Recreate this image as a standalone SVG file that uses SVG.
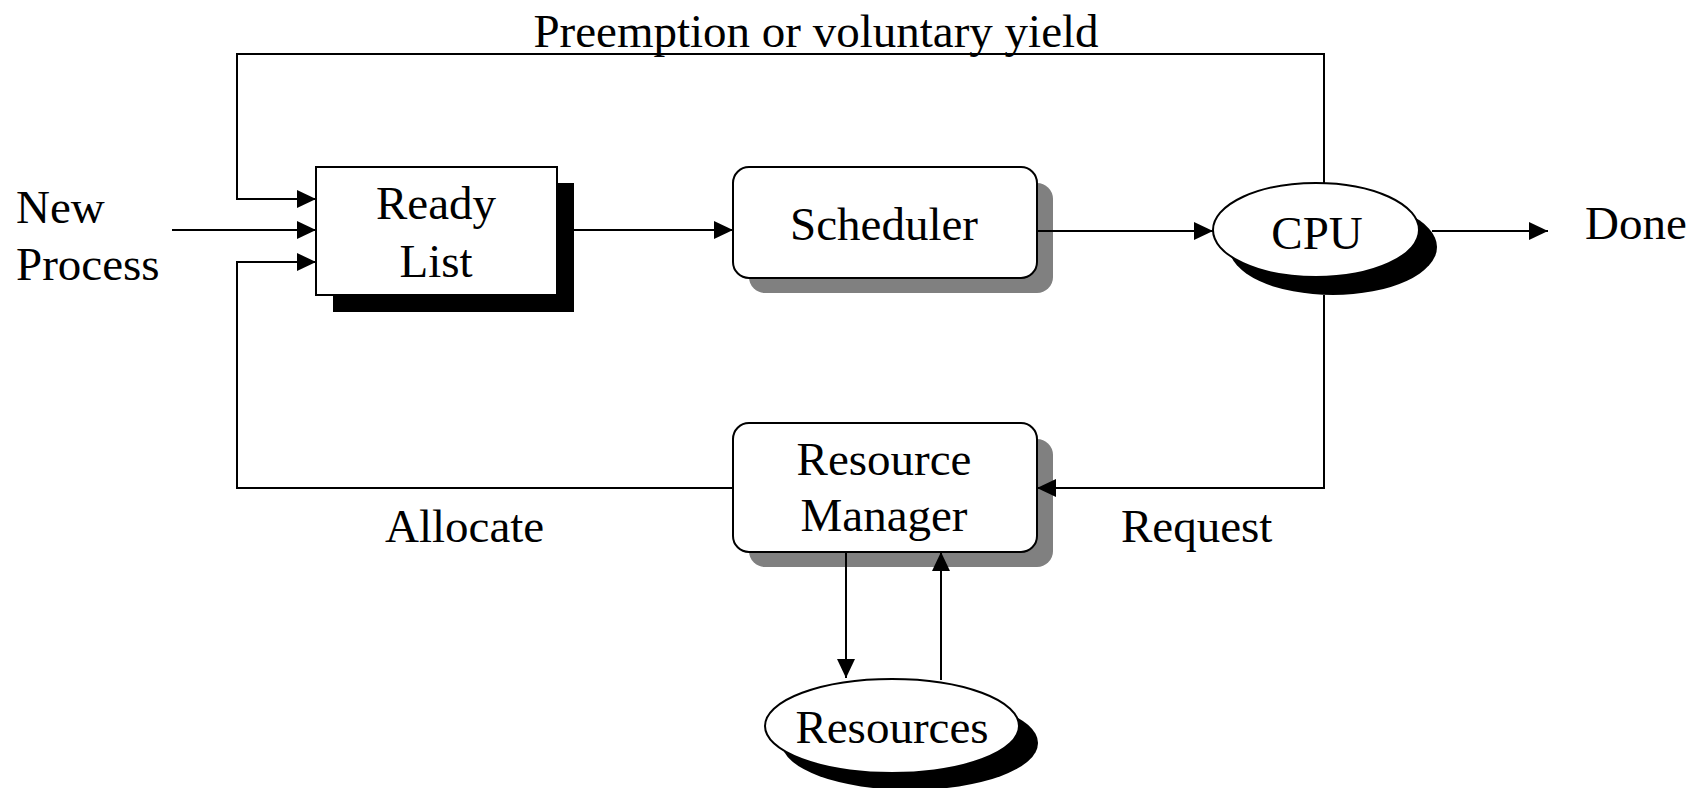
<svg xmlns="http://www.w3.org/2000/svg" width="1701" height="788" viewBox="0 0 1701 788">
<style>
text{font-family:"Liberation Serif","Times New Roman",serif;font-size:47px;fill:#000}
.c{text-anchor:middle}
.ln{fill:none;stroke:#000;stroke-width:2}
.box{fill:#fff;stroke:#000;stroke-width:2}
</style>
<defs>
<marker id="ah" markerUnits="userSpaceOnUse" markerWidth="20" markerHeight="20" refX="19" refY="9" orient="auto">
<path d="M0,0 L19,9 L0,18 Z" fill="#000"/>
</marker>
</defs>
<rect width="1701" height="788" fill="#fff"/>
<g id="new-process">
<text x="16" y="223">New</text>
<text x="16" y="280">Process</text>
</g>
<g id="ready-list">
<rect x="333" y="183" width="241" height="129" fill="#000"/>
<rect class="box" x="316" y="167" width="241" height="128"/>
<text x="436" y="219" class="c">Ready</text>
<text x="436" y="277" class="c">List</text>
</g>
<g id="scheduler">
<rect x="749" y="183" width="304" height="110" rx="16" fill="#808080"/>
<rect class="box" x="733" y="167" width="304" height="111" rx="16"/>
<text x="884" y="240" class="c">Scheduler</text>
</g>
<g id="cpu">
<ellipse cx="1333" cy="247" rx="104" ry="48" fill="#000"/>
<ellipse class="box" cx="1316" cy="230" rx="103" ry="47"/>
<text x="1317" y="249" class="c">CPU</text>
</g>
<g id="done">
<text x="1585" y="239">Done</text>
</g>
<g id="resource-manager">
<rect x="749" y="439" width="304" height="128" rx="16" fill="#808080"/>
<rect class="box" x="733" y="423" width="304" height="129" rx="16"/>
<text x="884" y="475" class="c">Resource</text>
<text x="884" y="531" class="c">Manager</text>
</g>
<g id="resources">
<ellipse cx="910" cy="743" rx="128" ry="47" fill="#000"/>
<ellipse class="box" cx="892" cy="726" rx="127" ry="47"/>
<text x="892" y="743" class="c">Resources</text>
</g>
<g id="connectors">
<polyline class="ln" points="1324,183 1324,54 237,54 237,199 316,199" marker-end="url(#ah)"/>
<line class="ln" x1="172" y1="230" x2="316" y2="230" marker-end="url(#ah)"/>
<polyline class="ln" points="733,488 237,488 237,262 316,262" marker-end="url(#ah)"/>
<line class="ln" x1="557" y1="230" x2="733" y2="230" marker-end="url(#ah)"/>
<line class="ln" x1="1037" y1="231" x2="1213" y2="231" marker-end="url(#ah)"/>
<line class="ln" x1="1432" y1="231" x2="1548" y2="231" marker-end="url(#ah)"/>
<polyline class="ln" points="1324,295 1324,488 1037,488" marker-end="url(#ah)"/>
<line class="ln" x1="846" y1="552" x2="846" y2="678" marker-end="url(#ah)"/>
<line class="ln" x1="941" y1="680" x2="941" y2="552" marker-end="url(#ah)"/>
<text x="816" y="47" class="c">Preemption or voluntary yield</text>
<text x="385" y="542">Allocate</text>
<text x="1121" y="542">Request</text>
</g>
</svg>
